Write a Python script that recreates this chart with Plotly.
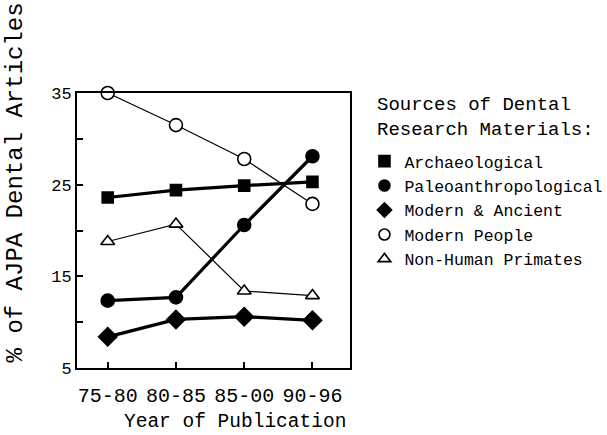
import plotly.graph_objects as go

periods = ["75-80", "80-85", "85-00", "90-96"]
x_pos = [0, 1, 2, 3]

archaeological = [23.6, 24.4, 24.9, 25.3]
paleoanthropological = [12.35, 12.7, 20.6, 28.1]
modern_ancient = [8.4, 10.3, 10.6, 10.2]
modern_people = [35.0, 31.5, 27.8, 22.9]
non_human_primates = [18.8, 20.7, 13.4, 12.9]

y_ticks = [5, 10, 15, 20, 25, 30, 35]
y_ticktext = ["5", "", "15", "", "25", "", "35"]

FONT = "Liberation Mono, Courier New, monospace"

# name, values, symbol, fill, line width, marker size
series = [
    ("Archaeological", archaeological, "square", "black", 3.2, 11),
    ("Paleoanthropological", paleoanthropological, "circle", "black", 3.2, 13),
    ("Modern & Ancient", modern_ancient, "diamond", "black", 3.2, 14),
    ("Modern People", modern_people, "circle", "white", 1.2, 13),
    ("Non-Human Primates", non_human_primates, "triangle-up", "white", 1.2, 12),
]

fig = go.Figure()
for name, vals, sym, fill, lw, ms in series:
    fig.add_trace(go.Scatter(
        x=x_pos, y=vals, mode="lines+markers", name=name, showlegend=False,
        line=dict(color="black", width=lw),
        marker=dict(symbol=sym, size=ms, color=fill,
                    line=dict(color="black", width=1.6)),
        cliponaxis=False,
    ))
# legend entries (marker only, as in the original key)
for name, vals, sym, fill, lw, ms in series:
    fig.add_trace(go.Scatter(
        x=[None], y=[None], mode="markers", name=name, showlegend=True,
        marker=dict(symbol=sym, size=11, color=fill,
                    line=dict(color="black", width=1.6)),
    ))

fig.add_annotation(
    text="% of AJPA Dental Articles", textangle=-90,
    xref="paper", yref="paper", x=-0.227, y=0.675,
    xanchor="center", yanchor="middle", showarrow=False,
    font=dict(family=FONT, size=24, color="black"),
)
fig.add_annotation(
    text="Year of Publication",
    xref="paper", yref="paper", x=0.579, y=-0.198,
    xanchor="center", yanchor="middle", showarrow=False,
    font=dict(family=FONT, size=19.5, color="black"),
)
fig.add_annotation(
    text="Sources of Dental<br>Research Materials:", align="left",
    xref="paper", yref="paper", x=1.0916, y=1.004,
    xanchor="left", yanchor="top", showarrow=False,
    font=dict(family=FONT, size=19, color="black"),
)

fig.update_layout(
    width=607, height=435,
    paper_bgcolor="white", plot_bgcolor="white",
    margin=dict(l=77, r=257, t=93, b=67, autoexpand=False),
    font=dict(family=FONT, color="black", size=16),
    legend=dict(
        x=1.053, xanchor="left", y=0.815, yanchor="top",
        font=dict(family=FONT, size=16.5),
        itemwidth=30, tracegroupgap=0,
        bgcolor="rgba(0,0,0,0)",
    ),
    xaxis=dict(
        range=[-0.45, 3.55], tickvals=x_pos, ticktext=periods,
        ticks="inside", ticklen=6, tickcolor="black", tickwidth=1.5,
        showline=True, linecolor="black", linewidth=2, mirror=True,
        showgrid=False, zeroline=False, automargin=False,
        ticklabelstandoff=8,
        tickfont=dict(family=FONT, size=20),
    ),
    yaxis=dict(
        range=[5, 35], tickvals=y_ticks, ticktext=y_ticktext,
        ticks="inside", ticklen=6, tickcolor="black", tickwidth=1.5,
        showline=True, linecolor="black", linewidth=2, mirror=True,
        showgrid=False, zeroline=False, automargin=False,
        tickfont=dict(family=FONT, size=17),
    ),
)

fig.write_html("out.html", config={"displayModeBar": False},
               post_script="document.body.style.margin='0';")
